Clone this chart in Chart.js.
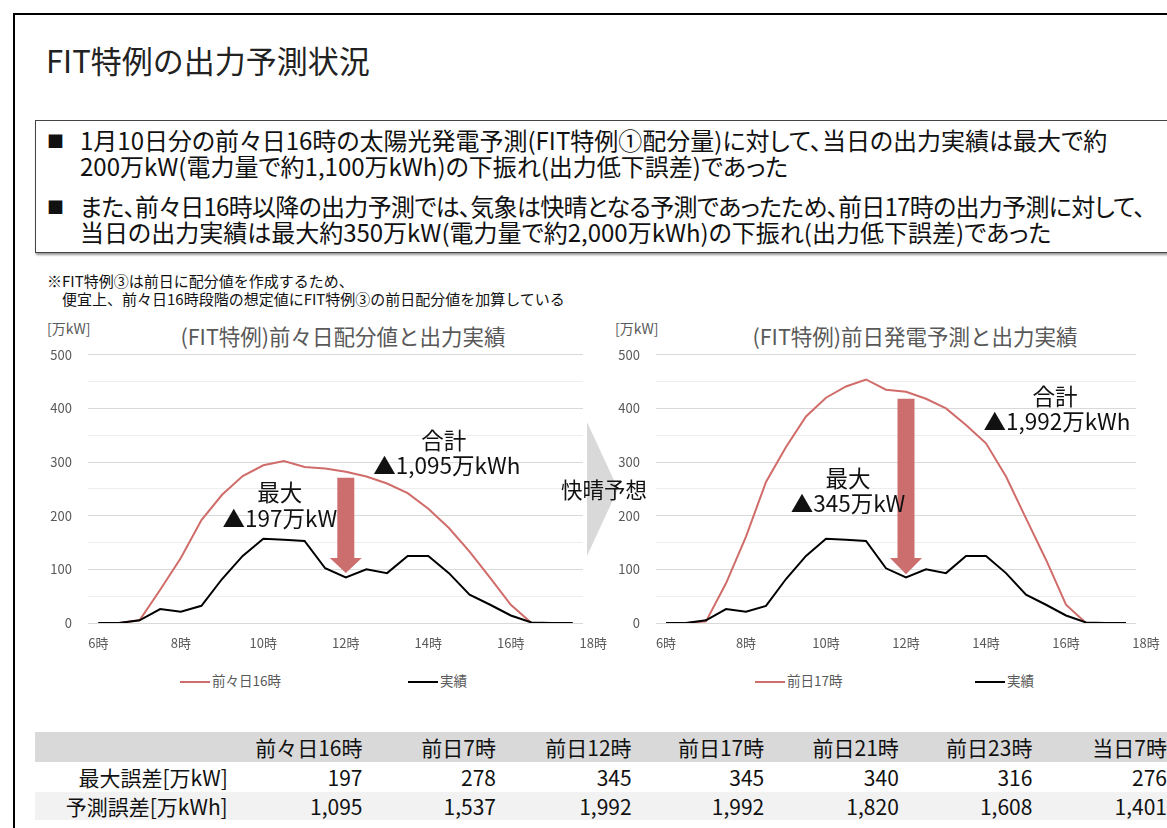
<!DOCTYPE html>
<html lang="ja">
<head>
<meta charset="utf-8">
<script src="https://cdn.jsdelivr.net/npm/chart.js@4"></script>
<style>
  body { margin: 0; width: 1167px; height: 828px; background: #fff; position: relative; overflow: hidden;
         font-family: "Noto Sans CJK JP", "Noto Sans", sans-serif; color: #111; }
  .abs { position: absolute; white-space: nowrap; }
  #frame { left: 13px; top: 13px; width: 1200px; height: 900px; border-top: 2px solid #000; border-left: 2px solid #000; }
  #title { left: 46px; top: 38px; font-size: 31px; line-height: 44px; color: #222; }
  #box { left: 35px; top: 120px; width: 1200px; height: 131px; border: 1.5px solid #444; box-shadow: 1px 2px 2px #999; }
  .para { left: 47px; font-size: 24px; line-height: 26px; font-feature-settings: "palt"; }
  .para .bul { position: absolute; left: 0; top: 1px; font-size: 17px; }
  .para .txt { position: absolute; left: 33px; top: 0; }
  .tight { letter-spacing: -0.7px; }
  #note { left: 47px; top: 272px; font-size: 15px; line-height: 18px; }
  .ctitle { font-size: 21.5px; color: #595959; transform: translateX(-50%); top: 320px; }
  .unit { font-size: 14px; color: #595959; top: 318px; }
  .leg { top: 671px; font-size: 13.5px; color: #595959; line-height: 18px; }
  .leg i { display: inline-block; width: 30px; height: 0; border-top: 2px solid; vertical-align: middle; margin-right: 2px; }
  #tri { left: 587px; top: 422px; width: 0; height: 0; border-top: 67px solid transparent; border-bottom: 67px solid transparent; border-left: 31px solid #D9D9D9; }
  #kaisei { left: 604px; top: 475px; transform: translateX(-50%); font-size: 21.5px; line-height: 28px; color: #111; }
  canvas { position: absolute; }
  #tbl { left: 35px; top: 732px; border-collapse: collapse; table-layout: fixed; font-size: 21px; }
  #tbl td { text-align: right; padding: 0; height: 30px; line-height: 28px; white-space: nowrap; }
  #tbl tr.h td { background: #D9D9D9; }
  #tbl tr.g td { background: #F2F2F2; height: 28px; }
</style>
</head>
<body>
<div id="frame" class="abs"></div>
<div id="title" class="abs">FIT特例の出力予測状況</div>
<div id="box" class="abs"></div>
<div class="abs para" style="top:127px"><span class="bul">■</span><span class="txt">1月10日分の前々日16時の太陽光発電予測(FIT特例①配分量)に対して、当日の出力実績は最大で約<br>200万kW(電力量で約1,100万kWh)の下振れ(出力低下誤差)であった</span></div>
<div class="abs para" style="top:193px"><span class="bul">■</span><span class="txt"><span class="tight">また、前々日16時以降の出力予測では、気象は快晴となる予測であったため、前日17時の出力予測に対して、</span><br>当日の出力実績は最大約350万kW(電力量で約2,000万kWh)の下振れ(出力低下誤差)であった</span></div>
<div id="note" class="abs">※FIT特例③は前日に配分値を作成するため、<br>　便宜上、前々日16時段階の想定値にFIT特例③の前日配分値を加算している</div>

<div id="tri" class="abs"></div>

<div class="abs unit" style="left:47px">[万kW]</div>
<div class="abs unit" style="left:615px">[万kW]</div>
<div class="abs ctitle" style="left:343px">(FIT特例)前々日配分値と出力実績</div>
<div class="abs ctitle" style="left:915px">(FIT特例)前日発電予測と出力実績</div>

<canvas id="chartLeft" style="left:30px; top:331px" width="580" height="329"></canvas>
<canvas id="chartRight" style="left:600px; top:331px" width="567" height="329"></canvas>

<div id="kaisei" class="abs">快晴予想</div>

<div class="abs leg" style="left:180px"><i style="border-color:#D06C69"></i>前々日16時</div>
<div class="abs leg" style="left:408px"><i style="border-color:#000"></i>実績</div>
<div class="abs leg" style="left:755px"><i style="border-color:#D06C69"></i>前日17時</div>
<div class="abs leg" style="left:975px"><i style="border-color:#000"></i>実績</div>

<table id="tbl" class="abs"></table>

<script>
// 30分ごとの時刻 (6:00 - 17:30)
const times = ['6時', '6:30', '7:00', '7:30', '8時', '8:30', '9:00', '9:30', '10時', '10:30', '11:00', '11:30',
               '12時', '12:30', '13:00', '13:30', '14時', '14:30', '15:00', '15:30', '16時', '16:30', '17:00', '17:30'];

// 出力 [万kW]
const actual = [0, 0, 5, 26, 21, 32, 82, 125, 157, 155, 153, 102,
                85, 100, 93, 125, 125, 93, 53, 34, 14, 1, 0, 0];
const forecast2DaysBefore16 = [0, 0, 5, 62, 121, 192, 239, 274, 294, 302, 291, 288,
                               282, 273, 260, 242, 213, 177, 133, 84, 34, 0, 0, 0];
const forecastDayBefore17 = [0, 0, 3, 74, 161, 263, 328, 385, 420, 441, 454, 435,
                             431, 418, 400, 369, 335, 273, 195, 118, 34, 0, 0, 0];

// 表
const tableCols = ['前々日16時', '前日7時', '前日12時', '前日17時', '前日21時', '前日23時', '当日7時'];
const maxError = ['197', '278', '345', '345', '340', '316', '276'];
const energyError = ['1,095', '1,537', '1,992', '1,992', '1,820', '1,608', '1,401'];

const RED = '#D06C69';
const ARROW = '#CC6E6E';
const TICK = '#595959';
const FONT = '"Noto Sans CJK JP", "Noto Sans", sans-serif';

// 矢印と注記を描くプラグイン
const annotPlugin = {
    id: 'annot',
    afterDatasetsDraw(chart, args, opts) {
        const ctx = chart.ctx;
        const xs = chart.scales.x, ys = chart.scales.y;
        const a = opts.arrow;
        if (a) {
            const cx = xs.getPixelForValue(a.x);
            const top = ys.getPixelForValue(a.top);
            const neck = ys.getPixelForValue(a.neck);
            const tip = ys.getPixelForValue(a.tip);
            const bw = 8.5, hw = 16;
            ctx.save();
            ctx.fillStyle = ARROW;
            ctx.beginPath();
            ctx.moveTo(cx - bw, top);
            ctx.lineTo(cx + bw, top);
            ctx.lineTo(cx + bw, neck);
            ctx.lineTo(cx + hw, neck);
            ctx.lineTo(cx, tip);
            ctx.lineTo(cx - hw, neck);
            ctx.lineTo(cx - bw, neck);
            ctx.closePath();
            ctx.fill();
            ctx.restore();
        }
        ctx.save();
        ctx.fillStyle = '#111';
        ctx.font = '22.5px ' + FONT;
        ctx.textAlign = 'center';
        ctx.textBaseline = 'middle';
        (opts.labels || []).forEach(l => {
            ctx.fillText(l.text, xs.getPixelForValue(l.x), ys.getPixelForValue(l.y));
        });
        // 18時 (軸の外側の目盛ラベル)
        ctx.fillStyle = TICK;
        ctx.font = '13px ' + FONT;
        ctx.fillText('18時', xs.getPixelForValue(times.length), ys.bottom + 20);
        ctx.restore();
    }
};

function makeChart(id, label, forecast, yWidth, rightPad, annot) {
    const ctx = document.getElementById(id).getContext('2d');
    return new Chart(ctx, {
        type: 'line',
        data: {
            labels: times,
            datasets: [
                { label: '実績', data: actual, borderColor: '#000', borderWidth: 2, pointRadius: 0, tension: 0, order: 1 },
                { label: label, data: forecast, borderColor: RED, borderWidth: 2, pointRadius: 0, tension: 0, order: 2 }
            ]
        },
        options: {
            responsive: false,
            animation: false,
            layout: { padding: { left: 0, right: rightPad, top: 4, bottom: 0 } },
            plugins: { legend: { display: false }, tooltip: { enabled: false }, annot: annot },
            scales: {
                x: {
                    offset: true,
                    grid: { display: false, drawTicks: false },
                    border: { display: false },
                    ticks: {
                        autoSkip: false, maxRotation: 0, padding: 12, color: TICK,
                        font: { size: 13, family: FONT },
                        callback: (v, i) => (i % 4 === 0 ? times[i] : '')
                    },
                    afterFit: s => { s.height = 37; }
                },
                y: {
                    min: 0, max: 500,
                    grid: {
                        color: c => (c.tick && c.tick.value % 100 === 0 ? '#D9D9D9' : '#EEEEEE'),
                        lineWidth: 1, drawTicks: false
                    },
                    border: { display: false },
                    ticks: {
                        stepSize: 50, padding: 16, color: TICK,
                        font: { size: 13, family: FONT },
                        callback: v => (v % 100 === 0 ? v : '')
                    },
                    afterFit: s => { s.width = yWidth; }
                }
            }
        },
        plugins: [annotPlugin]
    });
}

makeChart('chartLeft', '前々日16時', forecast2DaysBefore16, 58, 27, {
    arrow: { x: 12, top: 271, neck: 121, tip: 93 },
    labels: [
        { text: '最大', x: 8.8, y: 243 },
        { text: '▲197万kW', x: 8.8, y: 195 },
        { text: '合計', x: 16.75, y: 340 },
        { text: '▲1,095万kWh', x: 16.9, y: 294 }
    ]
});

makeChart('chartRight', '前日17時', forecastDayBefore17, 56, 31, {
    arrow: { x: 12, top: 418, neck: 121, tip: 91 },
    labels: [
        { text: '最大', x: 9.1, y: 270 },
        { text: '▲345万kW', x: 9.1, y: 223 },
        { text: '合計', x: 19.45, y: 422 },
        { text: '▲1,992万kWh', x: 19.55, y: 375 }
    ]
});

// 表を組み立てる
function buildTable() {
    const tbl = document.getElementById('tbl');
    const widths = [193, 135, 134, 136, 133, 135, 134, 135];
    let html = '<colgroup>' + widths.map(w => `<col style="width:${w}px">`).join('') + '</colgroup>';
    html += '<tr class="h"><td></td>' + tableCols.map(c => `<td>${c}</td>`).join('') + '</tr>';
    html += '<tr><td>最大誤差[万kW]</td>' + maxError.map(v => `<td>${v}</td>`).join('') + '</tr>';
    html += '<tr class="g"><td>予測誤差[万kWh]</td>' + energyError.map(v => `<td>${v}</td>`).join('') + '</tr>';
    tbl.innerHTML = html;
}
buildTable();
</script>
</body>
</html>
